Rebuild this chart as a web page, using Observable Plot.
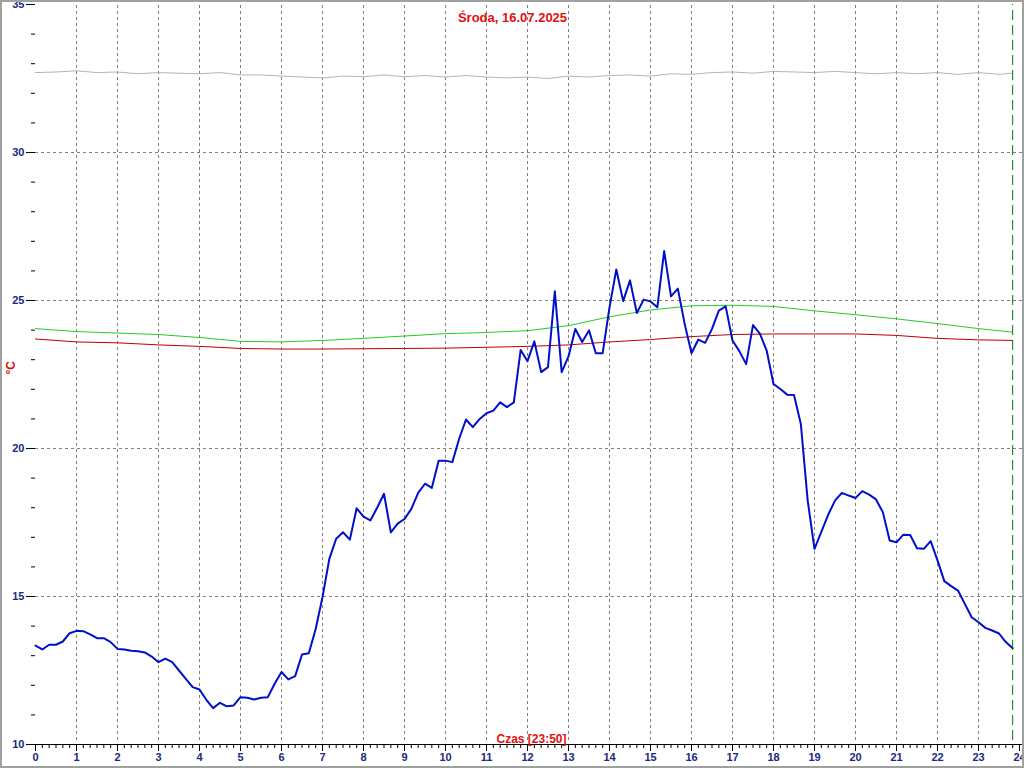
<!DOCTYPE html>
<html><head><meta charset="utf-8">
<script src="https://cdn.jsdelivr.net/npm/d3@7"></script>
<script src="https://cdn.jsdelivr.net/npm/@observablehq/plot@0.6"></script>
<style>
html,body{margin:0;padding:0;background:#fff;}
#chart{width:1024px;height:768px;position:relative;overflow:hidden;}
#chart svg{display:block;}
#border{position:absolute;left:0;top:0;width:1020px;height:764px;border:2px solid #a0a0a0;pointer-events:none;}
</style></head><body><div id="chart"><div id="border"></div></div>
<script>
const titleText = "Środa, 16.07.2025";
const xLabelText = "Czas [23:50]";
const yLabelText = "°C";
const nowHour = 23 + 50 / 60;

const hourTicks = [0,1,2,3,4,5,6,7,8,9,10,11,12,13,14,15,16,17,18,19,20,21,22,23,24];
const yMajorTicks = [10,15,20,25,30,35];
const yMinorTicks = [10,11,12,13,14,15,16,17,18,19,20,21,22,23,24,25,26,27,28,29,30,31,32,33,34,35];

// blue series: one reading every 10 minutes, 00:00 .. 23:50
const outdoorTemp = [
  13.34,13.21,13.37,13.37,13.48,13.76,
  13.84,13.83,13.72,13.59,13.59,13.46,
  13.23,13.21,13.17,13.15,13.11,12.97,
  12.78,12.90,12.78,12.50,12.22,11.94,
  11.86,11.51,11.23,11.41,11.29,11.32,
  11.60,11.58,11.52,11.58,11.60,12.05,
  12.45,12.20,12.31,13.04,13.08,13.90,
  14.98,16.27,16.95,17.17,16.92,17.98,
  17.70,17.57,18.00,18.47,17.17,17.46,
  17.62,17.96,18.50,18.81,18.67,19.59,
  19.59,19.54,20.33,20.98,20.72,21.00,
  21.19,21.28,21.56,21.40,21.56,23.33,
  22.95,23.62,22.58,22.75,25.31,22.58,
  23.11,24.04,23.60,23.99,23.22,23.22,
  24.77,26.05,24.98,25.68,24.58,25.03,
  24.97,24.77,26.67,25.14,25.40,24.21,
  23.22,23.68,23.57,24.04,24.66,24.80,
  23.65,23.29,22.85,24.17,23.88,23.31,
  22.18,22.01,21.82,21.81,20.83,18.25,
  16.61,17.18,17.76,18.24,18.50,18.41,
  18.33,18.56,18.44,18.28,17.85,16.89,
  16.83,17.09,17.08,16.63,16.61,16.87,
  16.22,15.52,15.35,15.20,14.75,14.30,
  14.13,13.94,13.85,13.75,13.46,13.25
];

// hourly readings of the other series (last one at 23:50)
const refHours = [0,1,2,3,4,5,6,7,8,9,10,11,12,13,14,15,16,17,18,19,20,21,22,23,nowHour];
const greenTemp = [24.05,23.95,23.90,23.85,23.75,23.62,23.60,23.65,23.72,23.80,23.88,23.92,23.98,24.15,24.45,24.68,24.82,24.84,24.80,24.65,24.52,24.38,24.22,24.05,23.93];
const redTemp   = [23.70,23.60,23.57,23.50,23.45,23.38,23.36,23.36,23.37,23.38,23.39,23.42,23.45,23.50,23.60,23.68,23.78,23.85,23.87,23.87,23.87,23.82,23.72,23.67,23.65];

// half-hourly readings of the grey series (last one at 23:50)
const grayHours = [0,0.5,1,1.5,2,2.5,3,3.5,4,4.5,5,5.5,6,6.5,7,7.5,8,8.5,9,9.5,10,10.5,11,11.5,12,12.5,13,13.5,14,14.5,15,15.5,16,16.5,17,17.5,18,18.5,19,19.5,20,20.5,21,21.5,22,22.5,23,23.5,nowHour];
const grayTemp = [32.70,32.72,32.76,32.70,32.72,32.66,32.70,32.68,32.66,32.70,32.62,32.62,32.58,32.55,32.52,32.58,32.56,32.62,32.56,32.60,32.55,32.60,32.55,32.52,32.55,32.50,32.58,32.55,32.60,32.62,32.58,32.66,32.64,32.70,32.72,32.68,32.74,32.72,32.70,32.74,32.70,32.66,32.70,32.66,32.70,32.64,32.70,32.64,32.68];

const blueData = outdoorTemp.map((v, i) => ({x: i / 6, y: v}));
const greenData = refHours.map((h, i) => ({x: h, y: greenTemp[i]}));
const redData = refHours.map((h, i) => ({x: h, y: redTemp[i]}));
const grayData = grayHours.map((h, i) => ({x: h, y: grayTemp[i]}));
const minorX = d3.range(0, 24 * 6 + 1).map(i => i / 6);

const tickColor = "#1c2880";
const red = "#e01010";

const chart = Plot.plot({
  width: 1024,
  height: 768,
  marginLeft: 35,
  marginRight: 5,
  marginTop: 4,
  marginBottom: 24,
  style: {fontFamily: "'Liberation Sans', Arial, sans-serif", background: "transparent"},
  x: {domain: [0, 24], label: null},
  y: {domain: [10, 35], label: null},
  marks: [
    Plot.ruleX(hourTicks.filter(h => h > 0 && h < 24), {stroke: "#808080", strokeDasharray: "3,3", strokeWidth: 1, y1: 10, y2: 35, insetTop: -4}),
    Plot.ruleY(yMajorTicks.filter(v => v > 10 && v < 35), {stroke: "#808080", strokeDasharray: "3,3", strokeWidth: 1, insetRight: -5}),
    Plot.ruleY([10], {stroke: "#000", strokeWidth: 1, insetRight: -5}),
    Plot.axisY({ticks: yMinorTicks, tickSize: 4, text: null, stroke: "#000", label: null}),
    Plot.axisY({ticks: yMajorTicks, tickSize: 9, tickPadding: 2, stroke: "#000", fill: tickColor, fontSize: 11, fontWeight: "bold", label: null}),
    Plot.axisX({ticks: minorX, tickSize: 4, text: null, stroke: "#000", label: null}),
    Plot.axisX({ticks: hourTicks, tickSize: 7, tickPadding: 2, stroke: "#000", fill: tickColor, fontSize: 11, fontWeight: "bold", label: null}),
    Plot.line(grayData, {x: "x", y: "y", stroke: "#b4b4b4", strokeWidth: 1}),
    Plot.line(greenData, {x: "x", y: "y", stroke: "#22cc22", strokeWidth: 1}),
    Plot.line(redData, {x: "x", y: "y", stroke: "#c00000", strokeWidth: 1}),
    Plot.line(blueData, {x: "x", y: "y", stroke: "#0010c8", strokeWidth: 2}),
    Plot.ruleX([nowHour], {stroke: "#007a00", strokeDasharray: "10,5", strokeWidth: 1, y1: 10, y2: 35, insetTop: -4}),
    Plot.text([titleText], {frameAnchor: "top", dx: -15, dy: 8, fill: red, fontSize: 13, fontWeight: "bold"}),
    Plot.text([xLabelText], {frameAnchor: "bottom", lineAnchor: "bottom", dx: 4, dy: -2, fill: red, fontSize: 12, fontWeight: "bold"}),
    Plot.text([yLabelText], {frameAnchor: "left", dx: -24, rotate: -90, fill: red, fontSize: 12, fontWeight: "bold"})
  ]
});
document.getElementById("chart").prepend(chart);
</script></body></html>
